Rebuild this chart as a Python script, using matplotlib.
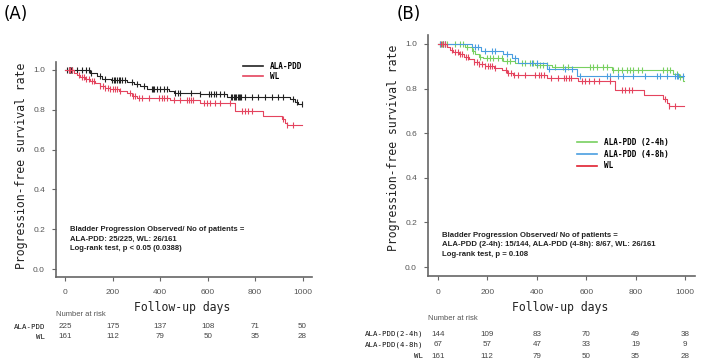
import numpy as np
import matplotlib
matplotlib.use('Agg')
import matplotlib.pyplot as plt
from matplotlib.transforms import blended_transform_factory

W, H = 709, 361
MONO = 'DejaVu Sans Mono'
SANS = 'Liberation Sans'

# --- panel A: ALA-PDD vs WL (step times in days, survival) ---
pdd_t = [0, 105, 133, 154, 190, 260, 288, 316, 344, 435, 456, 568, 680, 947, 968, 982, 996]
pdd_s = [1.0, 0.983, 0.970, 0.956, 0.950, 0.940, 0.930, 0.920, 0.905, 0.894, 0.886, 0.878, 0.866, 0.854, 0.841, 0.831, 0.831]
pdd_cens = [7, 14, 18, 21, 25, 28, 49, 70, 88, 98, 108, 147, 168, 196, 204, 211, 218, 225, 232, 239, 253,
            281, 302, 330, 365, 370, 375, 386, 397, 414, 428, 463, 473, 484, 529, 568, 604, 615, 625, 636,
            653, 669, 698, 703, 709, 714, 720, 726, 731, 736, 742, 758, 786, 814, 842, 870, 898, 919, 959, 975, 996]

wl_t = [0, 35, 49, 63, 84, 105, 126, 147, 168, 189, 225, 260, 281, 302, 442, 568, 716, 835, 912, 926, 936, 996]
wl_s = [1.0, 0.987, 0.975, 0.963, 0.953, 0.943, 0.933, 0.921, 0.911, 0.903, 0.893, 0.883, 0.871, 0.861,
        0.849, 0.836, 0.794, 0.771, 0.754, 0.735, 0.722, 0.722]
wl_cens = [14, 21, 28, 56, 70, 80, 88, 98, 112, 122, 147, 157, 168, 178, 189, 201, 211, 218, 232, 274, 285,
           295, 309, 323, 351, 393, 407, 417, 428, 456, 484, 512, 519, 529, 540, 583, 597, 611, 632, 653,
           695, 744, 758, 772, 786, 919, 936, 961]

# --- panel B: ALA-PDD split by time ---
g_t = [0, 109, 136, 152, 166, 184, 265, 312, 393, 460, 703, 953, 976, 993, 996]
g_s = [1.0, 0.985, 0.970, 0.955, 0.943, 0.935, 0.925, 0.913, 0.907, 0.897, 0.884, 0.866, 0.851, 0.835, 0.835]
g_cens = [8, 15, 22, 28, 35, 69, 89, 103, 116, 143, 170, 197, 211, 224, 244, 258, 278, 291, 339, 352, 372,
          386, 399, 413, 426, 440, 474, 507, 528, 615, 629, 642, 669, 683, 710, 730, 744, 764, 777, 791,
          811, 825, 912, 926, 939, 966, 980]

b_t = [0, 136, 176, 265, 298, 325, 440, 561, 995]
b_s = [1.0, 0.985, 0.970, 0.955, 0.935, 0.915, 0.886, 0.857, 0.857]
b_cens = [10, 20, 30, 150, 163, 190, 217, 231, 278, 310, 379, 399, 450, 514, 541, 575, 684, 696, 729,
          749, 789, 838, 887, 899, 927, 960, 968, 972, 990]

risk_days = [0, 200, 400, 600, 800, 1000]
pdd_risk = [225, 175, 137, 108, 71, 50]
wl_risk = [161, 112, 79, 50, 35, 28]
g_risk = [144, 109, 83, 70, 49, 38]
b_risk = [67, 57, 47, 33, 19, 9]

C_BLACK = '#222222'
C_RED = '#e4445e'
C_GREEN = '#78d060'
C_BLUE = '#4a9ee0'
AX_COL = '#666666'


def fx(x):
    return x / W


def fy(y):
    return 1 - y / H


def step_at(t, s, x):
    idx = np.searchsorted(t, x, side='right') - 1
    return np.asarray(s)[idx]


def km(ax, t, s, cens, color):
    ax.step(t, s, where='post', color=color, lw=0.8)
    ax.plot(cens, step_at(t, s, cens), ls='none', marker='|', ms=5, mew=0.8, color=color)


def setup(ax):
    ax.set_xlim(-40, 1040)
    ax.set_ylim(-0.04, 1.04)
    for sp in ['top', 'right']:
        ax.spines[sp].set_visible(False)
    for sp in ['left', 'bottom']:
        ax.spines[sp].set_color(AX_COL)
        ax.spines[sp].set_linewidth(1.2)
    ax.set_xticks(risk_days)
    ax.set_yticks([0, 0.2, 0.4, 0.6, 0.8, 1.0])
    ax.set_yticklabels(['0.0', '0.2', '0.4', '0.6', '0.8', '1.0'])
    ax.tick_params(axis='x', length=3, pad=6, width=0.8, color=AX_COL, labelsize=6, labelcolor='#555555')
    ax.tick_params(axis='y', length=3, pad=5, width=0.8, color=AX_COL, labelsize=6, labelcolor='#555555')
    for lab in ax.get_xticklabels() + ax.get_yticklabels():
        lab.set_fontfamily(SANS)


def ax_left(ax):
    return ax.get_position().x0 * W


def risk_table(fig, ax, rows, label_x, ys, title_y):
    tr = blended_transform_factory(ax.transData, fig.transFigure)
    fig.text(fx(ax_left(ax)), fy(title_y), 'Number at risk', fontsize=5.5, family=SANS, color='#555555',
             ha='left', va='center')
    for (name, vals), y in zip(rows, ys):
        fig.text(fx(label_x), fy(y), name, fontsize=5.3, family=MONO, ha='right', va='center', color='#111111')
        for d, v in zip(risk_days, vals):
            ax.text(d, fy(y), str(v), transform=tr, fontsize=5.8, family=SANS, color='#444444',
                    ha='center', va='center', clip_on=False)


fig = plt.figure(figsize=(W / 100, H / 100), dpi=100)

# panel A axes: spines at x 56..312, y 62..277 px
axA = fig.add_axes([fx(56), fy(277), (312 - 56) / W, (277 - 62) / H])
setup(axA)
km(axA, pdd_t, pdd_s, pdd_cens, C_BLACK)
km(axA, wl_t, wl_s, wl_cens, C_RED)
hA = [plt.Line2D([], [], color=C_BLACK, lw=1.2), plt.Line2D([], [], color=C_RED, lw=1.2)]
axA.legend(hA, ['ALA-PDD', 'WL'], loc='upper left', bbox_to_anchor=(fx(243), fy(62)),
           bbox_transform=fig.transFigure, frameon=False, borderpad=0, borderaxespad=0,
           handlelength=2.6, handletextpad=0.9, labelspacing=0.15,
           prop={'family': MONO, 'size': 5.5, 'weight': 'bold'})
axA.text(21, 0.15, 'Bladder Progression Observed/ No of patients =\nALA-PDD: 25/225, WL: 26/161\n'
         'Log-rank test, p < 0.05 (0.0388)', fontsize=5.5, family=SANS, fontweight='bold',
         ha='left', va='center', linespacing=1.45, color='#222222')
fig.text(fx(22), fy(166), 'Progression-free survival rate', rotation=90, fontsize=8.3, family=MONO,
         ha='center', va='center', color='#222222')
fig.text(fx(182), fy(307), 'Follow-up days', fontsize=8.3, family=MONO, ha='center', va='center',
         color='#222222')
risk_table(fig, axA, [('ALA-PDD', pdd_risk), ('WL', wl_risk)], 45, [327, 337], 314)
fig.text(fx(4), fy(14), '(A)', fontsize=12, family='DejaVu Sans', ha='left', va='center')

# panel B axes: spines at x 428..695, y 35..276 px
axB = fig.add_axes([fx(428), fy(276), (695 - 428) / W, (276 - 35) / H])
setup(axB)
km(axB, g_t, g_s, g_cens, C_GREEN)
km(axB, b_t, b_s, b_cens, C_BLUE)
km(axB, wl_t, wl_s, wl_cens, C_RED)
hB = [plt.Line2D([], [], color=C_GREEN, lw=1.2), plt.Line2D([], [], color=C_BLUE, lw=1.2),
      plt.Line2D([], [], color='#e02030', lw=1.2)]
axB.legend(hB, ['ALA-PDD (2-4h)', 'ALA-PDD (4-8h)', 'WL'], loc='upper left',
           bbox_to_anchor=(fx(577), fy(138)), bbox_transform=fig.transFigure, frameon=False,
           borderpad=0, borderaxespad=0, handlelength=2.6, handletextpad=0.9, labelspacing=0.35,
           prop={'family': MONO, 'size': 5.5, 'weight': 'bold'})
axB.text(16, 0.099, 'Bladder Progression Observed/ No of patients =\n'
         'ALA-PDD (2-4h): 15/144, ALA-PDD (4-8h): 8/67, WL: 26/161\nLog-rank test, p = 0.108',
         fontsize=5.6, family=SANS, fontweight='bold', ha='left', va='center', linespacing=1.45,
         color='#222222')
fig.text(fx(393), fy(148), 'Progression-free survival rate', rotation=90, fontsize=8.3, family=MONO,
         ha='center', va='center', color='#222222')
fig.text(fx(560), fy(307), 'Follow-up days', fontsize=8.3, family=MONO, ha='center', va='center',
         color='#222222')
risk_table(fig, axB, [('ALA-PDD(2-4h)', g_risk), ('ALA-PDD(4-8h)', b_risk), ('WL', wl_risk)],
           423, [334, 345, 356], 318)
fig.text(fx(397), fy(14), '(B)', fontsize=12, family='DejaVu Sans', ha='left', va='center')

fig.savefig('out.png', dpi=100)
